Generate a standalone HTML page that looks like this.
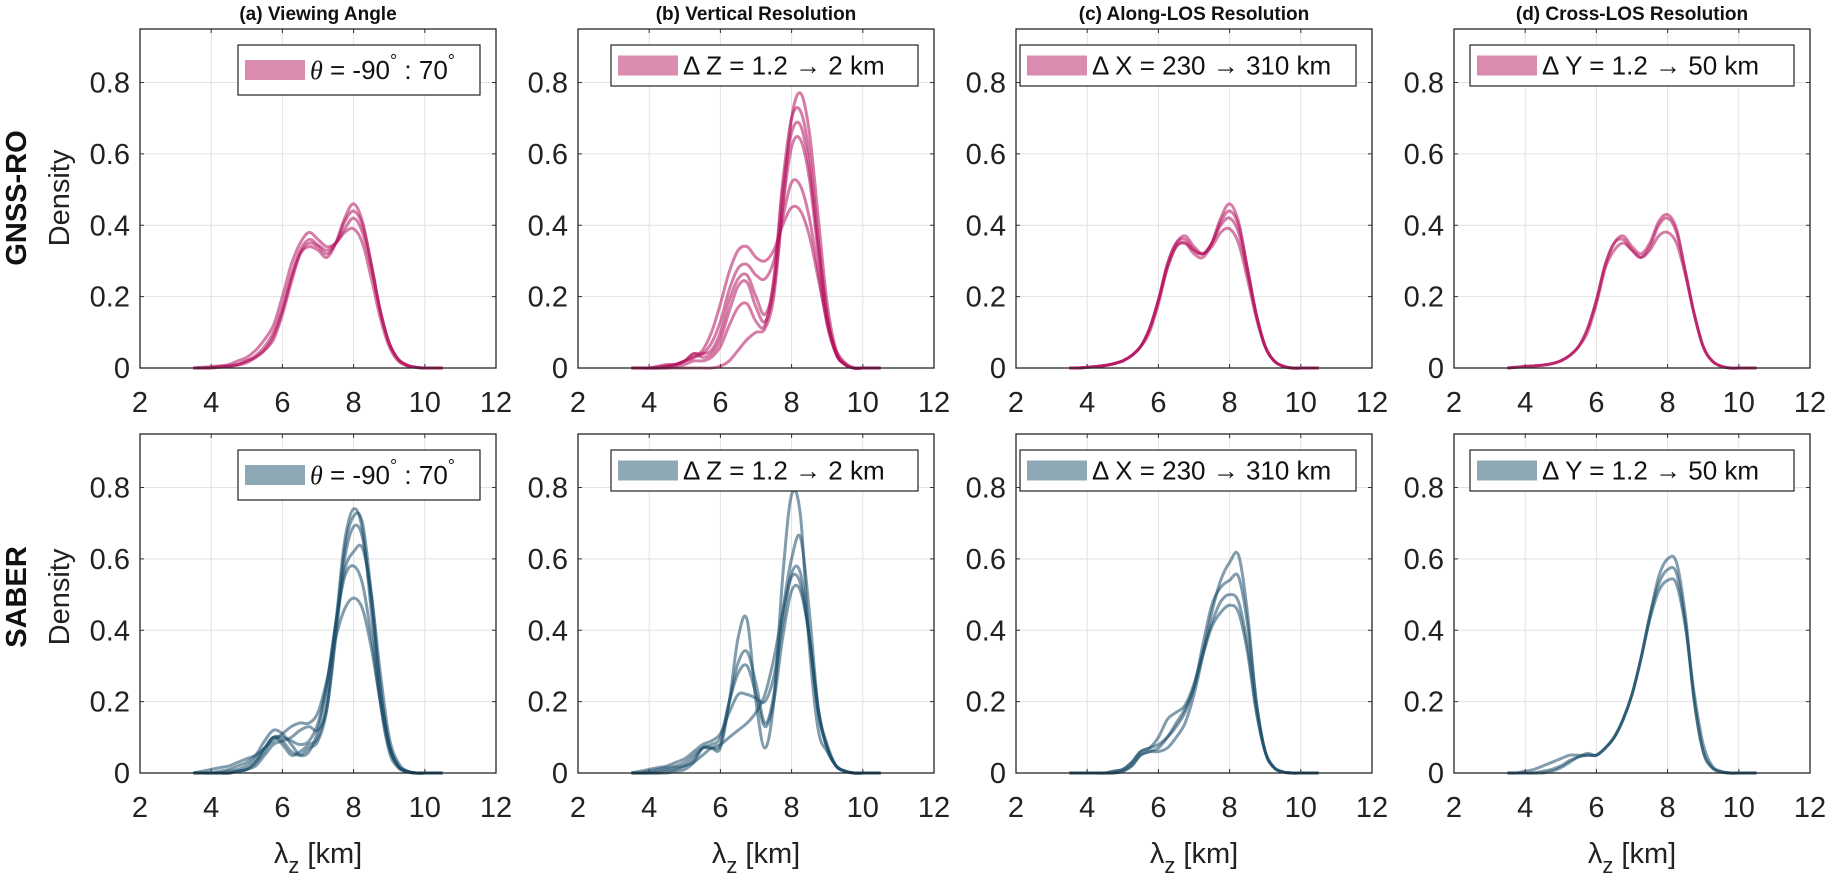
<!DOCTYPE html>
<html><head><meta charset="utf-8">
<style>
html,body{margin:0;padding:0;background:#fff;}
svg{display:block;font-family:"Liberation Sans",sans-serif;}
</style></head>
<body>
<svg id="fig" width="1830" height="880" viewBox="0 0 1830 880">
<text x="45" y="198" transform="rotate(-90 30 198)"></text>
</svg>
<script>
const xs = [3.5,3.75,4,4.25,4.5,4.75,5,5.25,5.5,5.75,6,6.25,6.5,6.75,7,7.25,7.5,7.75,8,8.25,8.5,8.75,9,9.25,9.5,9.75,10,10.25,10.5];
const xTicks = [2,4,6,8,10,12];
const yTicks = [0,0.2,0.4,0.6,0.8];
const titles = ["(a) Viewing Angle","(b) Vertical Resolution","(c) Along-LOS Resolution","(d) Cross-LOS Resolution"];
const rowLabels = ["GNSS-RO","SABER"];
const legendTexts = ["\u03B8 = -90\u02DA : 70\u02DA","\u0394 Z = 1.2 \u2192 2 km","\u0394 X = 230 \u2192 310 km","\u0394 Y = 1.2 \u2192 50 km"];

const gnssA = [
[0,0,0,0.003,0.005,0.01,0.02,0.035,0.06,0.1,0.17,0.26,0.33,0.36,0.345,0.33,0.35,0.39,0.42,0.38,0.28,0.16,0.07,0.025,0.008,0.002,0,0,0],
[0,0,0.002,0.004,0.006,0.01,0.02,0.03,0.05,0.09,0.16,0.25,0.32,0.34,0.33,0.31,0.35,0.42,0.46,0.41,0.29,0.16,0.07,0.025,0.008,0.002,0,0,0],
[0,0.002,0.004,0.006,0.01,0.02,0.03,0.05,0.08,0.12,0.2,0.29,0.35,0.38,0.36,0.34,0.35,0.38,0.39,0.35,0.25,0.14,0.06,0.02,0.006,0.002,0,0,0],
[0,0,0,0.002,0.004,0.008,0.015,0.03,0.05,0.08,0.15,0.24,0.32,0.35,0.34,0.32,0.35,0.41,0.44,0.4,0.29,0.16,0.07,0.025,0.008,0.002,0,0,0]
];
const gnssB = [
[0,0,0,0,0,0,0,0,0,0,0.005,0.02,0.05,0.08,0.1,0.11,0.2,0.45,0.7,0.77,0.66,0.42,0.18,0.05,0.01,0,0,0,0],
[0,0,0,0.005,0.01,0.01,0.02,0.03,0.05,0.1,0.18,0.27,0.33,0.34,0.31,0.3,0.33,0.4,0.45,0.44,0.37,0.25,0.13,0.05,0.015,0,0,0,0],
[0,0,0,0,0.005,0.01,0.02,0.04,0.03,0.04,0.08,0.16,0.23,0.24,0.17,0.13,0.22,0.45,0.62,0.64,0.53,0.32,0.13,0.04,0.01,0,0,0,0],
[0,0,0,0,0.005,0.01,0.02,0.03,0.04,0.07,0.13,0.22,0.28,0.29,0.26,0.25,0.3,0.42,0.52,0.51,0.42,0.27,0.12,0.04,0.01,0,0,0,0],
[0,0,0,0,0,0.005,0.01,0.02,0.02,0.03,0.06,0.12,0.17,0.18,0.13,0.12,0.25,0.52,0.7,0.72,0.6,0.36,0.15,0.04,0.01,0,0,0,0],
[0,0,0,0.003,0.006,0.01,0.02,0.04,0.04,0.05,0.1,0.19,0.25,0.26,0.2,0.15,0.24,0.5,0.66,0.68,0.56,0.34,0.14,0.04,0.01,0,0,0,0]
];
const gnssC = [
[0,0,0.002,0.004,0.007,0.012,0.02,0.035,0.06,0.11,0.19,0.29,0.35,0.36,0.33,0.32,0.35,0.41,0.44,0.4,0.28,0.15,0.06,0.02,0.005,0,0,0,0],
[0,0,0.002,0.004,0.007,0.012,0.02,0.035,0.06,0.1,0.18,0.28,0.34,0.35,0.32,0.31,0.35,0.42,0.46,0.41,0.28,0.15,0.06,0.02,0.005,0,0,0,0],
[0,0,0.002,0.004,0.007,0.012,0.02,0.035,0.06,0.11,0.19,0.28,0.34,0.35,0.33,0.32,0.34,0.38,0.39,0.35,0.25,0.14,0.06,0.02,0.005,0,0,0,0],
[0,0,0.002,0.004,0.007,0.012,0.02,0.035,0.06,0.11,0.19,0.29,0.35,0.37,0.34,0.32,0.35,0.4,0.42,0.38,0.27,0.15,0.06,0.02,0.005,0,0,0,0]
];
const gnssD = [
[0,0.002,0.004,0.006,0.008,0.012,0.02,0.035,0.06,0.11,0.19,0.29,0.35,0.36,0.33,0.31,0.34,0.4,0.42,0.38,0.27,0.15,0.06,0.02,0.005,0,0,0,0],
[0,0.002,0.004,0.006,0.008,0.012,0.02,0.035,0.06,0.11,0.19,0.29,0.35,0.37,0.34,0.32,0.35,0.41,0.43,0.39,0.27,0.15,0.06,0.02,0.005,0,0,0,0],
[0,0.002,0.004,0.006,0.008,0.012,0.02,0.035,0.06,0.1,0.18,0.28,0.33,0.35,0.33,0.31,0.33,0.37,0.38,0.35,0.26,0.15,0.06,0.02,0.005,0,0,0,0]
];
const saberA = [
[0,0,0,0,0,0.005,0.01,0.03,0.07,0.1,0.08,0.05,0.06,0.08,0.1,0.2,0.42,0.65,0.74,0.68,0.45,0.2,0.06,0.015,0.003,0,0,0,0],
[0,0.005,0.01,0.015,0.02,0.03,0.04,0.05,0.07,0.09,0.11,0.13,0.14,0.14,0.17,0.26,0.38,0.46,0.49,0.46,0.35,0.2,0.08,0.02,0.005,0,0,0,0],
[0,0,0,0.005,0.01,0.02,0.03,0.05,0.09,0.12,0.11,0.08,0.05,0.06,0.12,0.25,0.42,0.55,0.58,0.53,0.38,0.2,0.07,0.02,0.005,0,0,0,0],
[0,0,0,0,0,0.005,0.01,0.02,0.05,0.08,0.09,0.1,0.12,0.13,0.12,0.18,0.38,0.6,0.69,0.66,0.48,0.24,0.08,0.02,0.005,0,0,0,0],
[0,0,0,0,0.005,0.01,0.02,0.04,0.07,0.1,0.1,0.09,0.08,0.09,0.14,0.25,0.42,0.57,0.62,0.63,0.5,0.28,0.1,0.03,0.005,0,0,0,0],
[0,0,0,0,0,0.005,0.01,0.03,0.06,0.1,0.09,0.06,0.05,0.07,0.09,0.18,0.4,0.63,0.72,0.7,0.5,0.24,0.08,0.02,0.004,0,0,0,0]
];
const saberB = [
[0,0,0,0,0,0.005,0.01,0.03,0.07,0.07,0.07,0.2,0.38,0.43,0.2,0.07,0.2,0.55,0.78,0.72,0.35,0.12,0.06,0.02,0.005,0,0,0,0],
[0,0,0.005,0.01,0.015,0.02,0.03,0.05,0.07,0.07,0.08,0.2,0.31,0.34,0.25,0.14,0.22,0.45,0.6,0.66,0.45,0.18,0.08,0.02,0.005,0,0,0,0],
[0,0.005,0.01,0.015,0.02,0.03,0.04,0.06,0.08,0.09,0.11,0.17,0.22,0.22,0.21,0.2,0.27,0.42,0.56,0.56,0.38,0.17,0.07,0.02,0.005,0,0,0,0],
[0,0,0,0.005,0.01,0.015,0.02,0.04,0.07,0.08,0.1,0.2,0.28,0.3,0.22,0.13,0.2,0.38,0.51,0.51,0.38,0.18,0.07,0.02,0.005,0,0,0,0],
[0,0,0,0,0.005,0.01,0.02,0.03,0.05,0.07,0.08,0.1,0.12,0.14,0.17,0.22,0.32,0.45,0.55,0.53,0.38,0.17,0.07,0.02,0.005,0,0,0,0]
];
const saberC = [
[0,0,0,0,0,0,0.005,0.02,0.05,0.06,0.06,0.07,0.1,0.14,0.22,0.33,0.45,0.54,0.59,0.61,0.45,0.2,0.06,0.015,0.003,0,0,0,0],
[0,0,0,0,0,0.005,0.01,0.03,0.06,0.07,0.1,0.15,0.17,0.19,0.25,0.34,0.42,0.48,0.5,0.48,0.36,0.18,0.06,0.015,0.003,0,0,0,0],
[0,0,0,0,0,0.005,0.01,0.03,0.06,0.07,0.08,0.1,0.13,0.17,0.24,0.33,0.41,0.45,0.47,0.45,0.34,0.17,0.06,0.015,0.003,0,0,0,0],
[0,0,0,0,0,0,0.005,0.02,0.05,0.06,0.07,0.1,0.14,0.18,0.24,0.36,0.47,0.52,0.54,0.55,0.42,0.2,0.06,0.015,0.003,0,0,0,0]
];
const saberD = [
[0,0,0,0,0,0.005,0.015,0.03,0.045,0.05,0.05,0.07,0.1,0.15,0.22,0.32,0.44,0.55,0.6,0.59,0.44,0.2,0.06,0.015,0.003,0,0,0,0],
[0,0,0.005,0.01,0.02,0.03,0.04,0.05,0.05,0.05,0.05,0.07,0.1,0.15,0.22,0.32,0.43,0.51,0.54,0.53,0.41,0.22,0.08,0.02,0.005,0,0,0,0],
[0,0,0,0,0.005,0.01,0.02,0.035,0.045,0.055,0.05,0.07,0.1,0.15,0.22,0.32,0.44,0.53,0.57,0.56,0.42,0.2,0.06,0.015,0.003,0,0,0,0]
];

const rowsData = [[gnssA,gnssB,gnssC,gnssD],[saberA,saberB,saberC,saberD]];
const NS = "http://www.w3.org/2000/svg";
const svg = document.getElementById('fig');
svg.innerHTML = '';
const colX0 = [140,578,1016,1454];
const W = 356;
const rowY0 = [368,773];
const H = [339,339];
const legendW = [242,307,336,324];
const lineCol = ["rgba(180,18,94,0.55)","rgba(26,77,105,0.55)"];
const swatch = ["#d98cb0","#8fa8b5"];

function mk(tag, attrs, parent){
  const e = document.createElementNS(NS, tag);
  for (const k in attrs) e.setAttribute(k, attrs[k]);
  (parent||svg).appendChild(e);
  return e;
}
function path(pts){
  let d = "M"+pts[0][0].toFixed(1)+","+pts[0][1].toFixed(1);
  for (let i=0;i<pts.length-1;i++){
    const p0=pts[Math.max(0,i-1)],p1=pts[i],p2=pts[i+1],p3=pts[Math.min(pts.length-1,i+2)];
    const c1x=p1[0]+(p2[0]-p0[0])/6, c1y=p1[1]+(p2[1]-p0[1])/6;
    const c2x=p2[0]-(p3[0]-p1[0])/6, c2y=p2[1]-(p3[1]-p1[1])/6;
    d+=" C"+c1x.toFixed(1)+","+c1y.toFixed(1)+" "+c2x.toFixed(1)+","+c2y.toFixed(1)+" "+p2[0].toFixed(1)+","+p2[1].toFixed(1);
  }
  return d;
}

for (let r=0;r<2;r++){
  const rl = mk('text',{x:0,y:0,'font-size':29,'font-weight':'bold','text-anchor':'middle',fill:'#111',transform:'translate(26,'+(r?597:198)+') rotate(-90)'});
  
  
  rl.textContent = rowLabels[r];
  const dl = mk('text',{x:0,y:0,'font-size':29,'text-anchor':'middle',fill:'#222',transform:'translate(69,'+(r?597:198)+') rotate(-90)'});
  
  
  dl.textContent = 'Density';
  for (let c=0;c<4;c++){
    const x0=colX0[c], yb=rowY0[r];
    const sx = v => x0 + (v-2)/10*W;
    const sy = v => yb - v/0.95*H[r];
    const g = mk('g',{});
    
    
    mk('rect',{x:x0,y:sy(0.95),width:W,height:H[r],fill:'#fff'},g);
    xTicks.forEach(t=>{
      if(t>2&&t<12) mk('line',{x1:sx(t),x2:sx(t),y1:sy(0),y2:sy(0.95),stroke:'#e2e2e2','stroke-width':1},g);
      mk('line',{x1:sx(t),x2:sx(t),y1:sy(0),y2:sy(0)-4,stroke:'#333'},g);
      mk('line',{x1:sx(t),x2:sx(t),y1:sy(0.95),y2:sy(0.95)+4,stroke:'#333'},g);
      const tl = mk('text',{x:sx(t),y:sy(0)+44,'font-size':29,'text-anchor':'middle',fill:'#222'},g);
      
      
      tl.textContent = t;
    });
    yTicks.forEach(t=>{
      if(t>0) mk('line',{x1:x0,x2:x0+W,y1:sy(t),y2:sy(t),stroke:'#e2e2e2','stroke-width':1},g);
      mk('line',{x1:x0,x2:x0+4,y1:sy(t),y2:sy(t),stroke:'#333'},g);
      mk('line',{x1:x0+W,x2:x0+W-4,y1:sy(t),y2:sy(t),stroke:'#333'},g);
      const tl = mk('text',{x:x0-10,y:sy(t)+10,'font-size':29,'text-anchor':'end',fill:'#222'},g);
      
      
      tl.textContent = t===0?'0':t.toFixed(1);
    });
    rowsData[r][c].forEach((ys,i)=>{
      const pts = xs.map((x,j)=>[sx(x),sy(ys[j])]);
      const p = mk('path',{d:path(pts),fill:'none',stroke:lineCol[r],'stroke-width':3,'stroke-linejoin':'round'},g);
      
      
    });
    mk('rect',{x:x0,y:sy(0.95),width:W,height:H[r],fill:'none',stroke:'#262626','stroke-width':1.3},g);
    // legend
    const lh = c===0?50:41, lw=legendW[c], lx=x0+340-lw, ly=sy(0.95)+16;
    const lg = mk('g',{},g);
    
    
    mk('rect',{x:lx,y:ly,width:lw,height:lh,fill:'#fff',stroke:'#222','stroke-width':1.2},lg);
    mk('rect',{x:lx+7,y:ly+lh/2-10,width:60,height:20,fill:swatch[r]},lg);
    const lt = mk('text',{x:lx+72,y:ly+lh/2+9,'font-size':26,fill:'#111'},lg);
    
    
    if(c===0){
      lt.innerHTML = '<tspan font-family="Liberation Serif" font-style="italic">\u03B8</tspan> = -90<tspan dy="-12" font-size="18">\u00B0</tspan><tspan dy="12"> : 70</tspan><tspan dy="-12" font-size="18">\u00B0</tspan>';
    } else lt.textContent = legendTexts[c];
    if(r===0){
      const tt = mk('text',{x:x0+W/2,y:20,'font-size':19,'font-weight':'bold','text-anchor':'middle',fill:'#111'});
      
      
      tt.textContent = titles[c];
    } else {
      const xl = mk('text',{x:x0+W/2,y:863,'font-size':29,'text-anchor':'middle',fill:'#222'});
      
      
      xl.innerHTML = '\u03BB<tspan dy="10" font-size="22">z</tspan><tspan dy="-10"> [km]</tspan>';
    }
  }
}
</script>
</body></html>
